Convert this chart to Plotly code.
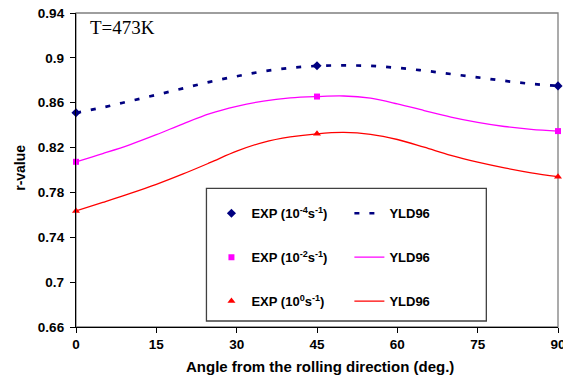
import plotly.graph_objects as go

# Experimental points
exp_angles = [0, 45, 90]
exp_r_1e4 = [0.851, 0.893, 0.875]
exp_r_1e2 = [0.8073, 0.8655, 0.8347]
exp_r_1e0 = [0.7635, 0.8323, 0.794]

# YLD96 predicted curves
yld_angles = [0, 5, 10, 15, 20, 25, 30, 35, 40, 45, 50, 55, 60, 65, 70, 75, 80, 85, 90]
yld_r_1e4 = [0.851, 0.8558, 0.8614, 0.8670, 0.8728, 0.8786, 0.8836, 0.8880, 0.8910, 0.8928,
             0.8933, 0.8928, 0.8911, 0.8886, 0.8856, 0.8826, 0.8795, 0.8768, 0.875]
yld_r_1e2 = [0.8073, 0.8147, 0.8225, 0.8315, 0.8412, 0.8502, 0.8567, 0.8615, 0.8643, 0.8655,
             0.8660, 0.8640, 0.8590, 0.8530, 0.8472, 0.8425, 0.8388, 0.8362, 0.8347]
yld_r_1e0 = [0.7635, 0.7711, 0.7789, 0.7872, 0.7965, 0.8065, 0.8168, 0.8247, 0.8295, 0.8323,
             0.8335, 0.8318, 0.8272, 0.8203, 0.8130, 0.8070, 0.8019, 0.7975, 0.794]

x_ticks = [0, 15, 30, 45, 60, 75, 90]
y_ticks = [0.66, 0.7, 0.74, 0.78, 0.82, 0.86, 0.9, 0.94]

NAVY = "#000080"
MAG = "#FF00FF"
RED = "#FF0000"
FONT = "Liberation Sans, Arial, sans-serif"

fig = go.Figure()

# curves first (below markers)
fig.add_trace(go.Scatter(x=yld_angles, y=yld_r_1e4, mode="lines", name="YLD96",
                         line=dict(color=NAVY, width=2.7, dash="5px,10px", shape="spline"),
                         legend="legend2", legendgroup="y1"))
fig.add_trace(go.Scatter(x=yld_angles, y=yld_r_1e2, mode="lines", name="YLD96",
                         line=dict(color=MAG, width=1.3, shape="spline"),
                         legend="legend2", legendgroup="y2"))
fig.add_trace(go.Scatter(x=yld_angles, y=yld_r_1e0, mode="lines", name="YLD96",
                         line=dict(color=RED, width=1.3, shape="spline"),
                         legend="legend2", legendgroup="y3"))

fig.add_trace(go.Scatter(x=exp_angles, y=exp_r_1e4, mode="markers",
                         name="EXP (10<sup>-4</sup>s<sup>-1</sup>)",
                         marker=dict(symbol="diamond", color=NAVY, size=7),
                         legend="legend", legendgroup="e1", cliponaxis=False))
fig.add_trace(go.Scatter(x=exp_angles, y=exp_r_1e2, mode="markers",
                         name="EXP (10<sup>-2</sup>s<sup>-1</sup>)",
                         marker=dict(symbol="square", color=MAG, size=6),
                         legend="legend", legendgroup="e2", cliponaxis=False))
fig.add_trace(go.Scatter(x=exp_angles, y=exp_r_1e0, mode="markers",
                         name="EXP (10<sup>0</sup>s<sup>-1</sup>)",
                         marker=dict(symbol="triangle-up", color=RED, size=7),
                         legend="legend", legendgroup="e3", cliponaxis=False))

W, H = 563, 383
ml, mr, mt, mb = 75.5, 5.3, 12.7, 56.3
pw, ph = W - ml - mr, H - mt - mb

def px2paper_x(px):
    return (px - ml) / pw

def px2paper_y(py):
    return (H - mb - py) / ph

legend_common = dict(
    bgcolor="rgba(0,0,0,0)", borderwidth=0,
    font=dict(family=FONT, size=13, color="#000000", weight="bold"),
    orientation="v", xanchor="left", yanchor="top",
    tracegroupgap=24, itemclick=False, itemdoubleclick=False,
)

tickfont = dict(family=FONT, size=13.5, color="#000000", weight="bold")

fig.update_layout(
    width=W, height=H,
    margin=dict(l=ml, r=mr, t=mt, b=mb, pad=0, autoexpand=False),
    paper_bgcolor="white", plot_bgcolor="white",
    showlegend=True,
    legend=dict(x=px2paper_x(211), y=px2paper_y(198), **legend_common),
    legend2=dict(x=px2paper_x(349), y=px2paper_y(198), **legend_common),
    xaxis=dict(range=[0, 90], tickvals=x_ticks, ticktext=[str(v) for v in x_ticks],
               showgrid=False, zeroline=False, showline=True, linecolor="#000000", linewidth=1.3,
               ticks="outside", ticklen=5, tickcolor="#000000", tickwidth=1, automargin=False,
               ticklabeloverflow="allow", tickfont=tickfont),
    yaxis=dict(range=[0.66, 0.94], tickvals=y_ticks, ticktext=[f"{v:g}" for v in y_ticks],
               showgrid=False, zeroline=False, showline=True, linecolor="#000000", linewidth=1.3,
               ticks="outside", ticklen=5, tickcolor="#000000", tickwidth=1, automargin=False,
               ticklabelstandoff=3, ticklabeloverflow="allow", tickfont=tickfont),
    shapes=[
        dict(type="rect", xref="paper", yref="paper", x0=0, x1=1, y0=0, y1=1,
             line=dict(color="#7f7f7f", width=1.3), layer="below"),
        dict(type="rect", xref="paper", yref="paper",
             x0=px2paper_x(206), x1=px2paper_x(486), y0=px2paper_y(188), y1=px2paper_y(320.7),
             line=dict(color="#404040", width=1.3), fillcolor="rgba(0,0,0,0)", layer="above"),
    ],
    annotations=[
        dict(text="T=473K", xref="paper", yref="paper", x=px2paper_x(88), y=px2paper_y(27),
             xanchor="left", yanchor="middle", showarrow=False,
             font=dict(family="Liberation Serif, Times New Roman, serif", size=19, color="#000000")),
        dict(text="Angle from the rolling direction (deg.)", xref="paper", yref="paper",
             x=px2paper_x(320), y=px2paper_y(366), xanchor="center", yanchor="middle", showarrow=False,
             font=dict(family=FONT, size=15, color="#000000", weight="bold")),
        dict(text="r-value", xref="paper", yref="paper", x=px2paper_x(20), y=px2paper_y(168),
             xanchor="center", yanchor="middle", showarrow=False, textangle=-90,
             font=dict(family=FONT, size=14, color="#000000", weight="bold")),
    ],
)

fig.write_html("out.html")
